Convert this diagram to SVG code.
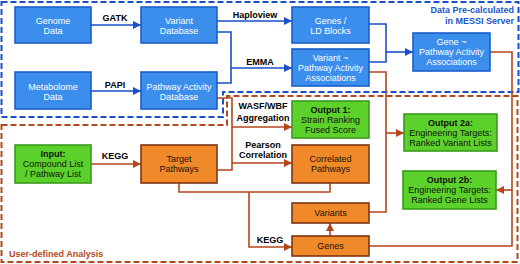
<svg xmlns="http://www.w3.org/2000/svg" width="520" height="264" viewBox="0 0 520 264">
<defs>
<marker id="ab" viewBox="0 0 10 10" refX="10" refY="5" markerWidth="9" markerHeight="8" markerUnits="userSpaceOnUse" orient="auto"><path d="M0,0 L10,5 L0,10 Z" fill="#1a4fc8"/></marker>
<marker id="ao" viewBox="0 0 10 10" refX="10" refY="5" markerWidth="9" markerHeight="8" markerUnits="userSpaceOnUse" orient="auto"><path d="M0,0 L10,5 L0,10 Z" fill="#b5461c"/></marker>
<style>
text{font-family:"Liberation Sans",Arial,sans-serif;font-size:9px;text-anchor:middle}
.bn rect{fill:#3b8eec;stroke:#1c5ec9;stroke-width:1.6}
.bn text{fill:#ffffff}
.gn rect{fill:#5cd12c;stroke:#3b9b1c;stroke-width:1.6}
.gn text{fill:#111111}
.on rect{fill:#f0892a;stroke:#7f3512;stroke-width:1.6}
.on text{fill:#1a1208}
.t{font-weight:bold}
.lbl{font-weight:bold;fill:#000}
.cb{fill:none;stroke:#1a4fc8;stroke-width:1.6}
.co{fill:none;stroke:#b5461c;stroke-width:1.6}
.rb{fill:none;stroke:#1a4fc8;stroke-width:2;stroke-dasharray:6,3}
.ro{fill:none;stroke:#b04a1e;stroke-width:2;stroke-dasharray:6,3}
</style>
</defs>
<g id="regions">
<path class="ro" d="M1.5,125 H227 V96 H517.5 V262 H1.5 Z"/>
<path class="rb" d="M1.5,2 H518.5 V92 H223 V117 H1.5 Z"/>
<text x="514" y="24" style="text-anchor:end;font-weight:bold;fill:#1c56c8">in MESSI Server</text>
<text x="514" y="13" style="text-anchor:end;font-weight:bold;fill:#1c56c8">Data Pre-calculated</text>
<text x="9" y="257" style="text-anchor:start;font-weight:bold;fill:#b04a1e">User-defined Analysis</text>
</g>
<g id="connectors">
<path class="cb" d="M91,25 H141" marker-end="url(#ab)"/>
<path class="cb" d="M91,91 H141" marker-end="url(#ab)"/>
<path class="cb" d="M217,21 H292" marker-end="url(#ab)"/>
<path class="cb" d="M217,32 H231 V83 H217"/>
<path class="cb" d="M231,68 H292" marker-end="url(#ab)"/>
<path class="cb" d="M369,24 H386 V62 H369"/>
<path class="cb" d="M386,52 H413" marker-end="url(#ab)"/>
<path class="co" d="M490,52 H512 V246 H369"/>
<path class="co" d="M512,190 H496" marker-end="url(#ao)"/>
<path class="co" d="M369,72 H386 V212 H369"/>
<path class="co" d="M386,133 H404" marker-end="url(#ao)"/>
<path class="co" d="M217,98 H232 V170 H217"/>
<path class="co" d="M232,127 H292" marker-end="url(#ao)"/>
<path class="co" d="M232,163 H292" marker-end="url(#ao)"/>
<path class="co" d="M179,183 V192 H330 V183"/>
<path class="co" d="M249,192 V247 H292" marker-end="url(#ao)"/>
<path class="co" d="M91,164 H141" marker-end="url(#ao)"/>
<path class="co" d="M330,236 V223" marker-end="url(#ao)"/>
<text class="lbl" x="115" y="21">GATK</text>
<text class="lbl" x="115" y="88">PAPI</text>
<text class="lbl" x="255" y="18">Haploview</text>
<text class="lbl" x="260" y="65">EMMA</text>
<text class="lbl" x="263" y="109">WASF/WBF</text>
<text class="lbl" x="263" y="121">Aggregation</text>
<text class="lbl" x="263" y="148">Pearson</text>
<text class="lbl" x="263" y="158">Correlation</text>
<text class="lbl" x="115" y="159">KEGG</text>
<text class="lbl" x="270" y="243">KEGG</text>
</g>
<g id="genome" class="bn"><rect x="15" y="7" width="76" height="36"/><text x="53" y="24">Genome</text><text x="53" y="34">Data</text></g>
<g id="metabolome" class="bn"><rect x="15" y="72" width="76" height="37"/><text x="53" y="90">Metabolome</text><text x="53" y="100">Data</text></g>
<g id="variantdb" class="bn"><rect x="141" y="7" width="76" height="36"/><text x="179" y="24">Variant</text><text x="179" y="34">Database</text></g>
<g id="padb" class="bn"><rect x="141" y="72" width="76" height="37"/><text x="179" y="90">Pathway Activity</text><text x="179" y="100">Database</text></g>
<g id="genesld" class="bn"><rect x="292" y="7" width="77" height="36"/><text x="330.5" y="24">Genes /</text><text x="330.5" y="34">LD Blocks</text></g>
<g id="variantpa" class="bn"><rect x="292" y="49" width="77" height="37"/><text x="330.5" y="61">Variant ~</text><text x="330.5" y="71">Pathway Activity</text><text x="330.5" y="81">Associations</text></g>
<g id="genepa" class="bn"><rect x="413" y="33" width="77" height="38"/><text x="451.5" y="45">Gene ~</text><text x="451.5" y="55">Pathway Activity</text><text x="451.5" y="65">Associations</text></g>
<g id="input" class="gn"><rect x="15" y="145" width="76" height="38"/><text class="t" x="53" y="157">Input:</text><text x="53" y="167">Compound List</text><text x="53" y="177">/ Pathway List</text></g>
<g id="output1" class="gn"><rect x="292" y="101" width="77" height="37"/><text class="t" x="330.5" y="113">Output 1:</text><text x="330.5" y="123">Strain Ranking</text><text x="330.5" y="133">Fused Score</text></g>
<g id="output2a" class="gn"><rect x="404" y="114" width="93" height="37"/><text class="t" x="450.5" y="126">Output 2a:</text><text x="450.5" y="136">Engineering Targets:</text><text x="450.5" y="146">Ranked Variant Lists</text></g>
<g id="output2b" class="gn"><rect x="403" y="171" width="93" height="38"/><text class="t" x="449.5" y="183">Output 2b:</text><text x="449.5" y="193">Engineering Targets:</text><text x="449.5" y="203">Ranked Gene Lists</text></g>
<g id="target" class="on"><rect x="141" y="145" width="76" height="38"/><text x="179" y="162">Target</text><text x="179" y="172">Pathways</text></g>
<g id="correlated" class="on"><rect x="292" y="145" width="77" height="38"/><text x="330.5" y="162">Correlated</text><text x="330.5" y="172">Pathways</text></g>
<g id="variants" class="on"><rect x="292" y="203" width="77" height="20"/><text x="330.5" y="216">Variants</text></g>
<g id="genes" class="on"><rect x="292" y="236" width="77" height="20"/><text x="330.5" y="249">Genes</text></g>
</svg>
